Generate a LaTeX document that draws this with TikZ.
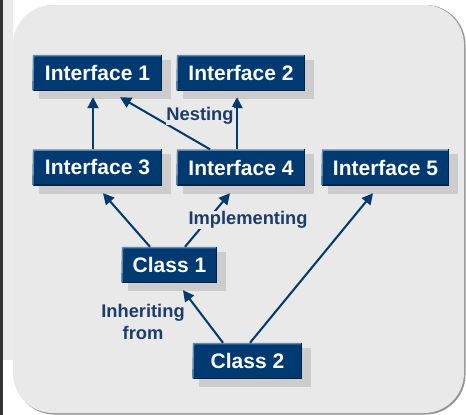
\documentclass[tikz,border=0pt]{standalone}
\usepackage{fontspec}
\setmainfont{Liberation Sans}
\usetikzlibrary{arrows.meta}
\definecolor{boxblue}{RGB}{0,58,112}
\definecolor{boxlight}{RGB}{100,135,175}
\definecolor{boxdark}{RGB}{0,35,75}
\definecolor{lblblue}{RGB}{28,60,110}
\definecolor{panel}{RGB}{233,233,233}
\definecolor{shad}{RGB}{204,204,204}
\definecolor{ashad}{RGB}{208,208,208}
\pgfdeclarelayer{bg}
\pgfdeclarelayer{shd}
\pgfsetlayers{bg,shd,main}
\tikzset{
  cbox/.style={rectangle, fill=boxblue, text=white, font=\bfseries\fontsize{21}{22}\selectfont,
    minimum height=36pt, inner sep=0pt},
  lbl/.style={text=lblblue, fill=panel, font=\bfseries\fontsize{18.3}{22}\selectfont, align=center, inner sep=0.5pt},
  arr/.style={draw=boxblue, line width=2pt, -{Triangle[length=11pt,width=11pt]}},
  sarr/.style={draw=ashad, line width=2pt, -{Triangle[length=11pt,width=11pt]}},
}
\newcommand{\boxdeco}[1]{%
  \fill[shad] ([xshift=6pt,yshift=-5pt]#1.north west) rectangle ([xshift=9pt,yshift=-8pt]#1.south east);
}
\newcommand{\boxedge}[1]{%
  \draw[boxlight, line width=1.5pt] ([yshift=0.75pt]#1.south west) -- ([xshift=0.75pt,yshift=-0.75pt]#1.north west) -- ([xshift=-0.75pt, yshift=-0.75pt]#1.north east);
  \draw[boxdark, line width=1.5pt] ([xshift=-0.75pt]#1.north east) -- ([xshift=-0.75pt,yshift=0.75pt]#1.south east) -- ([xshift=0.75pt,yshift=0.75pt]#1.south west);
}
\begin{document}
\begin{tikzpicture}[x=1pt,y=-1pt]
\useasboundingbox (0,0) rectangle (466,415);

% nodes
\node[cbox, minimum width=129pt] (i1) at (97.5,73) {Interface 1};
\node[cbox, minimum width=128pt] (i2) at (241,73) {Interface 2};
\node[cbox, minimum width=129pt] (i3) at (97.5,167.5) {Interface 3};
\node[cbox, minimum width=128pt] (i4) at (241,167.5) {Interface 4};
\node[cbox, minimum width=127pt] (i5) at (385.5,167.5) {Interface 5};
\node[cbox, minimum width=95pt] (c1) at (169.5,265) {Class 1};
\node[cbox, minimum width=109pt] (c2) at (247.5,361) {Class 2\hspace{12pt}};
\foreach \n in {i1,i2,i3,i4,i5,c1,c2}{\boxedge{\n}}

\begin{pgfonlayer}{bg}
\fill[white] (0,0) rectangle (466,415);
\fill[black!8] (3,0) rectangle (13,360);
\fill[black!42, rounded corners=40pt] (14.5,5) rectangle (465.5,414.5);
\fill[panel, rounded corners=40pt] (13,5) rectangle (464,413);
\fill[black!80] (0,0) rectangle (3,415);
\end{pgfonlayer}

\begin{pgfonlayer}{shd}
\boxdeco{i1}\boxdeco{i2}\boxdeco{i3}\boxdeco{i4}\boxdeco{i5}\boxdeco{c1}\boxdeco{c2}
\begin{scope}[xshift=6pt,yshift=-4pt]
\draw[sarr] ([xshift=-4.5pt]i3.north) -- ([xshift=-4.5pt,yshift=-6pt]i1.south);
\draw[sarr] ([xshift=-4pt]i4.north) -- ([xshift=-4pt,yshift=-6pt]i2.south);
\draw[sarr] ([xshift=-19.5pt]c1.north) -- ([xshift=5.5pt,yshift=-7.5pt]i3.south);
\draw[sarr] ([xshift=15.5pt]c1.north) -- ([xshift=-11pt,yshift=-7.5pt]i4.south);
\draw[sarr] ([xshift=2.5pt]c2.north) -- ([xshift=-12.5pt,yshift=-7.5pt]i5.south);
\draw[sarr] ([xshift=-24.5pt]c2.north) -- ([xshift=13.5pt,yshift=-7pt]c1.south);
\draw[sarr] ([xshift=-31pt]i4.north) -- ([xshift=22.5pt,yshift=-6pt]i1.south);
\end{scope}
\end{pgfonlayer}

% arrows
\draw[arr] ([xshift=-4.5pt]i3.north) -- ([xshift=-4.5pt,yshift=-6pt]i1.south);
\draw[arr] ([xshift=-31pt]i4.north) -- ([xshift=22.5pt,yshift=-6pt]i1.south);
\draw[arr] ([xshift=-4pt]i4.north) -- ([xshift=-4pt,yshift=-6pt]i2.south);
\draw[arr] ([xshift=-19.5pt]c1.north) -- ([xshift=5.5pt,yshift=-7.5pt]i3.south);
\draw[arr] ([xshift=15.5pt]c1.north) -- ([xshift=-11pt,yshift=-7.5pt]i4.south);
\draw[arr] ([xshift=2.5pt]c2.north) -- ([xshift=-12.5pt,yshift=-7.5pt]i5.south);
\draw[arr] ([xshift=-24.5pt]c2.north) -- ([xshift=13.5pt,yshift=-7pt]c1.south);

% labels
\node[lbl] (nest) at (200,116) {Nesting};
\node[lbl] (impl) at (248,220) {Implementing};
\node[lbl] (inh) at (143,322) {Inheriting\\from};
\end{tikzpicture}
\end{document}
